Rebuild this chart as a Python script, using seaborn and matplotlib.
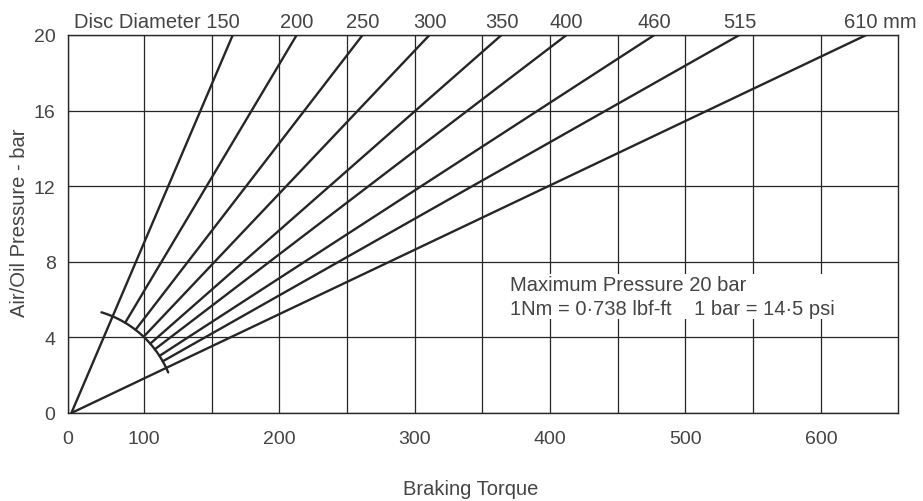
import numpy as np
import pandas as pd
import matplotlib.pyplot as plt
import seaborn as sns

# disc sizes (mm) and the braking torque each one reaches at 20 bar
diameters = [150, 200, 250, 300, 350, 400, 460, 515, 610]
torque_at_max = [165.7, 212.9, 261.6, 311.0, 364.2, 412.2, 477.1, 539.9, 633.6]
max_pressure = 20
origin_torque = 46.5  # the fan of lines starts at the left corner of the chart

# axis layout
x_range = (44, 657)
x_tick_pos = [44, 100, 200, 300, 400, 500, 600]
x_tick_labels = ["0", "100", "200", "300", "400", "500", "600"]
x_grid = list(range(100, 601, 50))
y_ticks = [0, 4, 8, 12, 16, 20]

# quarter arc that the middle lines start from (data units)
arc_rx, arc_ry = 77.5, 5.56

ink = "#262626"
text_col = "#444444"

sns.set_theme(style="white")
plt.rcParams["font.family"] = ["Liberation Sans", "DejaVu Sans"]

fig, ax = plt.subplots(figsize=(9.23, 5.02), dpi=100)
fig.subplots_adjust(left=68 / 923, right=898 / 923, bottom=88 / 502, top=466 / 502)


def angle(end):
    dx = end - origin_torque
    return np.arctan2(max_pressure / arc_ry, dx / arc_rx)


# build line segments
rows = []
for i, (d, end) in enumerate(zip(diameters, torque_at_max)):
    dx = end - origin_torque
    if i == 0 or i == len(diameters) - 1:
        t = 0.0
    else:
        t = 1.0 / np.sqrt((dx / arc_rx) ** 2 + (max_pressure / arc_ry) ** 2)
    rows.append({"diameter": d, "torque": origin_torque + t * dx, "pressure": t * max_pressure})
    rows.append({"diameter": d, "torque": end, "pressure": max_pressure})
lines = pd.DataFrame(rows)

sns.lineplot(data=lines, x="torque", y="pressure", units="diameter", estimator=None,
             sort=False, color=ink, lw=1.7, ax=ax, zorder=2)

# arc, running slightly past the outer two lines
a0 = angle(torque_at_max[-1]) - np.radians(2.7)
a1 = angle(torque_at_max[0]) + np.radians(6.5)
th = np.linspace(a0, a1, 80)
arc = pd.DataFrame({"torque": origin_torque + arc_rx * np.cos(th),
                    "pressure": arc_ry * np.sin(th)})
sns.lineplot(data=arc, x="torque", y="pressure", sort=False, color=ink, lw=1.7,
             ax=ax, zorder=2)

ax.set_xlim(*x_range)
ax.set_ylim(0, max_pressure)
ax.set_xticks(x_tick_pos)
ax.set_xticklabels(x_tick_labels)
ax.set_yticks(y_ticks)
ax.set_xticks(x_grid, minor=True)
ax.set_axisbelow(True)
ax.grid(which="both", axis="x", color=ink, lw=0.9)
ax.grid(which="major", axis="y", color=ink, lw=0.9)
ax.tick_params(axis="both", which="both", length=0, labelsize=14, colors=text_col)
ax.tick_params(axis="x", pad=12)
ax.tick_params(axis="y", pad=9)
for s in ax.spines.values():
    s.set_color(ink)
    s.set_linewidth(1.0)
ax.set_xlabel("")
ax.set_ylabel("")

# diameter labels along the top edge
for i, (d, end) in enumerate(zip(diameters, torque_at_max)):
    if i == 0:
        label, ha, off = f"Disc Diameter {d}", "right", 5
    elif i == len(diameters) - 1:
        label, ha, off = f"{d} mm", "left", -16
    else:
        label, ha, off = str(d), "center", 0
    ax.annotate(label, xy=(end, max_pressure), xytext=(off, 6), textcoords="offset points",
                ha=ha, va="baseline", fontsize=14.5, color=text_col, annotation_clip=False)

ax.text(370.8, 6.16, "Maximum Pressure 20 bar\n1Nm = 0·738 lbf-ft    1 bar = 14·5 psi",
        ha="left", va="center", fontsize=14.5, color=text_col, linespacing=1.3,
        bbox=dict(facecolor="white", edgecolor="none", pad=1), zorder=5)

fig.text(20 / 923, 1 - 223 / 502, "Air/Oil Pressure - bar", rotation=90,
         ha="center", va="center", fontsize=14.5, color=text_col)
fig.text(471 / 923, 1 - 490 / 502, "Braking Torque", ha="center", va="center",
         fontsize=14.5, color=text_col)

fig.savefig("out.png", dpi=100)
